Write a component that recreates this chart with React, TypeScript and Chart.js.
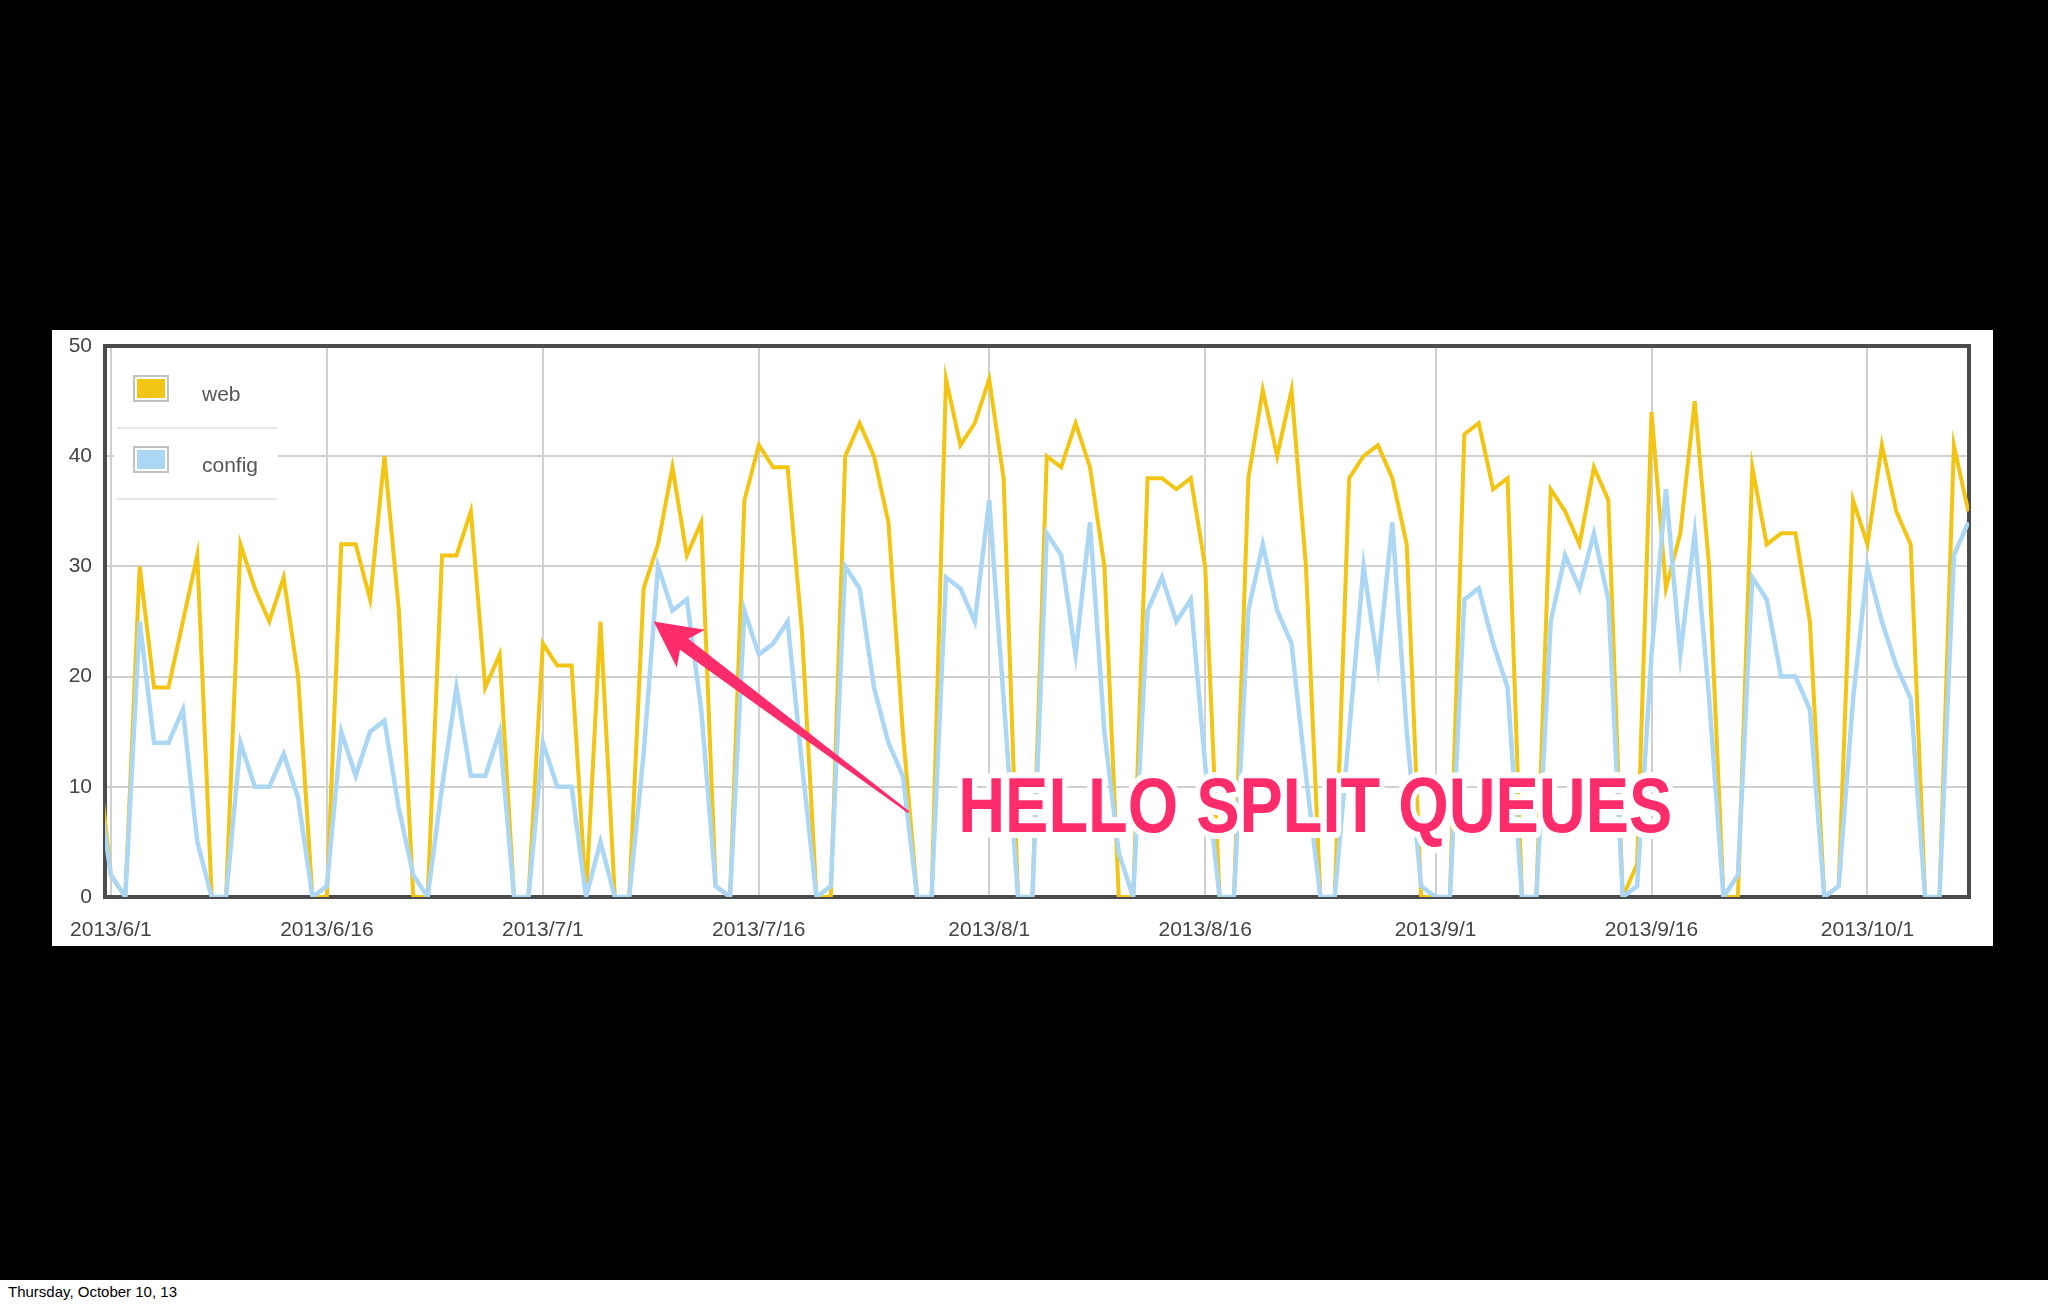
import React, { useEffect, useRef } from 'react';
import { Chart, registerables } from 'chart.js';

Chart.register(...registerables);

// Day index 0 = 2013/6/1; the series start one day earlier (2013/5/31, index -1).
const FIRST_DAY = -1;

const webValues = [
  14, 2, 0, 30, 19, 19, 25, 31, 0, 0,
  32, 28, 25, 29, 20, 0, 0, 32, 32, 27,
  40, 26, 0, 0, 31, 31, 35, 19, 22, 0,
  0, 23, 21, 21, 0, 25, 0, 0, 28, 32,
  39, 31, 34, 1, 0, 36, 41, 39, 39, 24,
  0, 0, 40, 43, 40, 34, 15, 0, 0, 47,
  41, 43, 47, 38, 0, 0, 40, 39, 43, 39,
  30, 0, 0, 38, 38, 37, 38, 30, 0, 0,
  38, 46, 40, 46, 30, 0, 0, 38, 40, 41,
  38, 32, 0, 0, 0, 42, 43, 37, 38, 0,
  0, 37, 35, 32, 39, 36, 0, 3, 44, 28,
  33, 45, 30, 0, 0, 39, 32, 33, 33, 25,
  0, 1, 36, 32, 41, 35, 32, 0, 0, 41,
  35,
];

const configValues = [
  11, 2, 0, 25, 14, 14, 17, 5, 0, 0,
  14, 10, 10, 13, 9, 0, 1, 15, 11, 15,
  16, 8, 2, 0, 10, 19, 11, 11, 15, 0,
  0, 14, 10, 10, 0, 5, 0, 0, 13, 30,
  26, 27, 17, 1, 0, 26, 22, 23, 25, 12,
  0, 1, 30, 28, 19, 14, 11, 0, 0, 29,
  28, 25, 36, 18, 0, 0, 33, 31, 22, 34,
  15, 4, 0, 26, 29, 25, 27, 12, 0, 0,
  26, 32, 26, 23, 11, 0, 0, 15, 30, 21,
  34, 15, 1, 0, 0, 27, 28, 23, 19, 0,
  0, 25, 31, 28, 33, 27, 0, 1, 22, 37,
  22, 33, 18, 0, 2, 29, 27, 20, 20, 17,
  0, 1, 18, 30, 25, 21, 18, 0, 0, 31,
  34,
];

const seriesNames = ['web', 'config'];
const seriesColors = ['#F2C414', '#ABD7F5'];

const tickDays = [0, 15, 30, 45, 61, 76, 92, 107, 122];
const tickLabels = [
  '2013/6/1', '2013/6/16', '2013/7/1', '2013/7/16', '2013/8/1',
  '2013/8/16', '2013/9/1', '2013/9/16', '2013/10/1',
];

const annotationText = 'HELLO SPLIT QUEUES';
const footerText = 'Thursday, October 10, 13';

const FONT = '"Liberation Sans", Arial, Helvetica, sans-serif';
const PINK = '#FF2C6B';

const toPoints = (vals: number[]) => vals.map((v, i) => ({ x: FIRST_DAY + i, y: v }));

const decorPlugin = {
  id: 'decor',
  beforeDatasetsDraw(chart: any) {
    const { ctx, chartArea: a } = chart;
    ctx.save();
    // plot frame
    ctx.strokeStyle = '#4b4b4b';
    ctx.lineWidth = 4;
    ctx.strokeRect(a.left, a.top, a.right - a.left, a.bottom - a.top);

    // legend
    const L = a.left;
    const T = a.top;
    ctx.fillStyle = '#ffffff';
    ctx.fillRect(L + 9, T + 4, 164, 151);
    ctx.strokeStyle = '#e6e6e6';
    ctx.lineWidth = 2;
    [82, 153].forEach((dy) => {
      ctx.beginPath();
      ctx.moveTo(L + 12, T + dy);
      ctx.lineTo(L + 172, T + dy);
      ctx.stroke();
    });
    const rows = [29, 100];
    seriesNames.forEach((name, i) => {
      const y0 = T + rows[i];
      ctx.fillStyle = '#ffffff';
      ctx.fillRect(L + 28, y0, 36, 27);
      ctx.strokeStyle = '#c2c2c2';
      ctx.lineWidth = 2;
      ctx.strokeRect(L + 29, y0 + 1, 34, 25);
      ctx.fillStyle = seriesColors[i];
      ctx.fillRect(L + 32, y0 + 4, 28, 19);
      ctx.fillStyle = '#555555';
      ctx.font = `21px ${FONT}`;
      ctx.textBaseline = 'middle';
      ctx.textAlign = 'left';
      ctx.fillText(name, L + 97, y0 + 20);
    });
    ctx.restore();
  },
  afterDatasetsDraw(chart: any) {
    const { ctx, scales } = chart;
    const xs = scales.x;
    const ys = scales.y;
    ctx.save();

    // arrow
    const tip = { x: xs.getPixelForValue(37.7), y: ys.getPixelForValue(25) };
    const tail = { x: xs.getPixelForValue(55.4), y: ys.getPixelForValue(7.7) };
    const dx = tail.x - tip.x;
    const dy = tail.y - tip.y;
    const len = Math.hypot(dx, dy);
    const u = { x: dx / len, y: dy / len };
    const n = { x: -u.y, y: u.x };
    const P = (along: number, side: number, base = tip) => [
      base.x + u.x * along + n.x * side,
      base.y + u.y * along + n.y * side,
    ];
    const pts = [
      P(0, 0),
      P(46, -24),
      P(38, -7),
      P(0, -1.2, tail),
      P(0, 1.2, tail),
      P(38, 7),
      P(46, 23),
    ];
    ctx.fillStyle = PINK;
    ctx.beginPath();
    pts.forEach(([x, y], i) => (i === 0 ? ctx.moveTo(x, y) : ctx.lineTo(x, y)));
    ctx.closePath();
    ctx.fill();

    // annotation text
    const tx = xs.getPixelForValue(58.85);
    const ty = ys.getPixelForValue(5.9);
    ctx.font = `bold 78px ${FONT}`;
    ctx.textAlign = 'left';
    ctx.textBaseline = 'alphabetic';
    ctx.lineJoin = 'round';
    ctx.strokeStyle = '#ffffff';
    ctx.lineWidth = 12;
    ctx.strokeText(annotationText, tx, ty, 714);
    ctx.fillStyle = PINK;
    ctx.fillText(annotationText, tx, ty, 714);
    ctx.restore();
  },
};

export default function App() {
  const canvasRef = useRef<HTMLCanvasElement | null>(null);

  useEffect(() => {
    const canvas = canvasRef.current;
    if (!canvas) return;
    const tickFont = { family: FONT, size: 21 };
    const chart = new Chart(canvas, {
      type: 'line',
      data: {
        datasets: [
          {
            label: seriesNames[1],
            data: toPoints(configValues),
            borderColor: seriesColors[1],
            borderWidth: 4.5,
            pointRadius: 0,
            tension: 0,
            fill: false,
          },
          {
            label: seriesNames[0],
            data: toPoints(webValues),
            borderColor: seriesColors[0],
            borderWidth: 4,
            pointRadius: 0,
            tension: 0,
            fill: false,
          },
        ],
      },
      options: {
        responsive: false,
        animation: false,
        devicePixelRatio: 1,
        layout: { padding: { top: 16, right: 24, left: 0, bottom: 0 } },
        plugins: { legend: { display: false }, tooltip: { enabled: false } },
        scales: {
          x: {
            type: 'linear',
            min: -0.41,
            max: 129.05,
            afterBuildTicks: (s: any) => {
              s.ticks = tickDays.map((v) => ({ value: v }));
            },
            afterFit: (s: any) => {
              s.height = 49;
              s.paddingLeft = 0;
              s.paddingRight = 0;
            },
            ticks: {
              autoSkip: false,
              maxRotation: 0,
              font: tickFont,
              color: '#444444',
              padding: 21,
              callback: (v: any) => {
                const i = tickDays.indexOf(Number(v));
                return i >= 0 ? tickLabels[i] : '';
              },
            },
            grid: { color: '#d0d0d0', lineWidth: 2, drawTicks: false },
            border: { display: false },
          },
          y: {
            min: 0,
            max: 50,
            afterFit: (s: any) => {
              s.width = 53;
              s.paddingTop = 0;
              s.paddingBottom = 0;
            },
            ticks: { stepSize: 10, font: tickFont, color: '#444444', padding: 13 },
            grid: { color: '#d0d0d0', lineWidth: 2, drawTicks: false },
            border: { display: false },
          },
        },
      },
      plugins: [decorPlugin],
    } as any);
    return () => chart.destroy();
  }, []);

  return (
    <div
      style={{
        position: 'absolute',
        left: 0,
        top: 0,
        width: 2048,
        height: 1304,
        background: '#000000',
        overflow: 'hidden',
      }}
    >
      <div
        style={{
          position: 'absolute',
          left: 52,
          top: 330,
          width: 1941,
          height: 616,
          background: '#ffffff',
        }}
      >
        <canvas ref={canvasRef} width={1941} height={616} style={{ display: 'block' }} />
      </div>
      <div
        style={{
          position: 'absolute',
          left: 0,
          top: 1280,
          width: 2048,
          height: 24,
          background: '#ffffff',
        }}
      >
        <span
          style={{
            position: 'absolute',
            left: 8,
            top: 3,
            font: `15px ${FONT}`,
            color: '#000000',
            whiteSpace: 'nowrap',
          }}
        >
          {footerText}
        </span>
      </div>
    </div>
  );
}
